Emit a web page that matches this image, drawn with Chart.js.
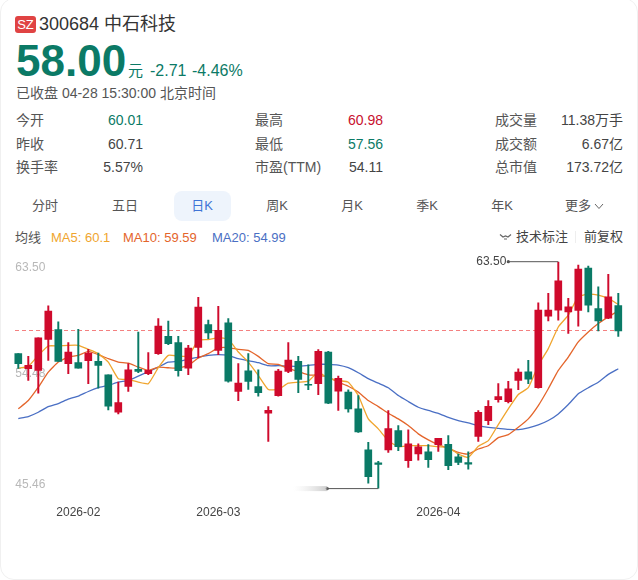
<!DOCTYPE html>
<html lang="zh">
<head>
<meta charset="utf-8">
<script src="https://cdn.jsdelivr.net/npm/chart.js@4"></script>
<style>
html,body{margin:0;padding:0;background:#fff;}
body{width:638px;height:580px;position:relative;overflow:hidden;font-family:"Liberation Sans","Noto Sans CJK SC",sans-serif;color:#444;}
#card{position:absolute;left:0;top:-2px;width:636px;height:580px;border:1px solid #f0f0f0;border-radius:14px;box-sizing:content-box;}
.t{position:absolute;white-space:nowrap;line-height:1;}
.r{text-align:right;}
.c{transform:translateX(-50%);}
#chart{position:absolute;left:0;top:250px;}
#pill{position:absolute;left:174px;top:191px;width:57px;height:30px;background:#eef4fc;border-radius:8px;}
#badge{position:absolute;left:15px;top:16px;width:21px;height:17px;background:#e04343;border-radius:3px;color:#fff;font-size:13px;line-height:17px;text-align:center;}
</style>
</head>
<body>
<div id="card"></div>
<div id="badge">SZ</div>
<div class="t" style="left:39px;top:15px;font-size:18px;color:#333">300684 中石科技</div>
<div class="t" style="left:16px;top:39px;font-size:44px;font-weight:bold;color:#0b7a66">58.00</div>
<div class="t" style="left:128px;top:63px;font-size:15px;color:#0b7a66">元</div>
<div class="t" style="left:150px;top:63px;font-size:16px;color:#0b7a66">-2.71</div>
<div class="t" style="left:192px;top:63px;font-size:16px;color:#0b7a66">-4.46%</div>
<div class="t" style="left:16px;top:86px;font-size:14px;color:#555">已收盘 04-28 15:30:00 北京时间</div>
<div id="stats"></div>
<div id="pill"></div>
<div id="tabs"></div>
<div class="t" style="left:15px;top:231px;font-size:13px;color:#555">均线</div>
<div id="legend"></div>
<svg style="position:absolute;left:499px;top:233px" width="13" height="8" viewBox="0 0 13 8"><path d="M1 1.5 L4 4 L6.5 3 L9 4 L12 1.5" fill="none" stroke="#666" stroke-width="1.2"/><path d="M5 6 L8 6" stroke="#666" stroke-width="1"/></svg>
<div class="t" style="left:516px;top:230px;font-size:13px;color:#444">技术标注</div>
<div style="position:absolute;left:575px;top:231px;width:1px;height:12px;background:#eee"></div>
<div class="t" style="left:584px;top:230px;font-size:13px;color:#444">前复权</div>
<canvas id="chart" width="638" height="298" style="width:638px;height:298px"></canvas>
<script>
const categories=["2026-01-23","2026-01-26","2026-01-27","2026-01-28","2026-01-29","2026-01-30","2026-02-02","2026-02-03","2026-02-04","2026-02-05","2026-02-06","2026-02-09","2026-02-10","2026-02-11","2026-02-12","2026-02-13","2026-02-24","2026-02-25","2026-02-26","2026-02-27","2026-03-02","2026-03-03","2026-03-04","2026-03-05","2026-03-06","2026-03-09","2026-03-10","2026-03-11","2026-03-12","2026-03-13","2026-03-16","2026-03-17","2026-03-18","2026-03-19","2026-03-20","2026-03-23","2026-03-24","2026-03-25","2026-03-26","2026-03-27","2026-03-30","2026-03-31","2026-04-01","2026-04-02","2026-04-03","2026-04-07","2026-04-08","2026-04-09","2026-04-10","2026-04-13","2026-04-14","2026-04-15","2026-04-16","2026-04-17","2026-04-20","2026-04-21","2026-04-22","2026-04-23","2026-04-24","2026-04-27","2026-04-28"];
const opens=[56.19,54.99,54.86,57.33,58.11,55.39,55.47,55.63,55.58,54.51,51.53,53.58,54.94,54.59,56.19,57.57,57.07,55.04,56.69,58.50,56.45,58.63,53.18,54.83,53.58,51.45,52.84,54.78,55.58,53.76,53.80,56.32,53.21,53.13,51.80,48.55,47.50,48.53,50.07,47.68,48.21,48.39,48.95,48.98,47.99,47.52,49.61,50.87,52.54,52.38,54.06,54.75,53.48,59.17,59.65,59.51,59.62,63.00,59.78,59.01,60.01];
const closes=[55.39,55.26,57.44,59.57,55.58,56.32,55.04,56.24,55.26,52.01,52.30,54.91,54.78,54.86,58.39,56.99,54.83,56.64,59.89,57.83,58.05,54.00,53.84,53.98,53.08,51.69,54.80,55.68,54.14,53.68,56.37,52.25,54.22,51.80,49.97,46.40,47.38,50.23,48.79,49.01,48.79,47.76,49.46,47.28,47.54,47.41,51.53,52.01,52.78,53.40,54.72,54.16,59.65,59.65,61.98,59.91,62.92,60.04,58.79,60.71,58.00];
const highs=[56.19,55.97,57.44,59.99,58.71,57.07,58.13,56.53,56.24,54.51,53.92,55.39,57.91,56.27,58.98,58.77,57.57,56.85,60.66,58.85,59.96,58.98,55.39,56.19,54.91,51.98,54.94,57.07,55.97,55.31,56.51,56.37,54.40,53.32,52.86,49.14,47.62,51.67,50.47,50.13,49.01,48.95,49.46,49.67,48.21,48.39,51.67,52.46,53.80,53.98,54.99,55.66,60.23,60.98,63.50,60.58,63.24,63.16,61.50,62.49,60.98];
const lows=[55.02,54.06,53.05,55.66,55.58,54.59,55.04,53.80,53.45,51.72,51.40,53.18,54.67,54.51,56.13,56.91,54.40,54.51,55.84,57.39,56.11,53.92,52.46,53.34,52.81,49.22,52.81,54.67,53.08,53.32,52.92,52.22,51.67,51.53,49.93,45.90,45.46,48.34,48.47,47.14,47.73,47.14,48.42,46.96,47.36,47.01,49.22,50.55,52.33,52.28,53.32,53.80,53.45,58.79,58.85,57.79,58.37,59.51,58.00,58.98,57.56];
const ma5=[55.04,55.18,56.05,56.80,56.80,56.85,56.85,56.53,56.19,55.52,54.20,54.14,53.92,53.80,55.07,56.05,56.00,56.00,57.25,57.31,57.47,57.33,56.32,55.52,54.46,53.34,53.34,53.84,53.92,54.00,54.72,54.22,54.06,53.92,52.86,51.00,50.21,49.27,48.79,48.87,48.87,48.87,48.79,48.74,48.21,47.94,48.82,49.27,50.55,51.80,52.94,53.48,55.26,56.59,58.31,59.25,60.71,60.92,60.84,60.58,60.10];
const ma10=[51.80,52.46,53.52,54.72,55.52,55.92,56.05,56.37,56.11,55.79,55.52,55.44,55.12,54.86,55.12,55.07,55.04,55.26,55.84,56.19,56.64,56.67,56.53,56.45,55.97,55.39,55.34,54.99,54.78,54.51,54.46,54.32,53.92,53.60,53.13,52.46,51.98,51.45,51.00,50.47,49.81,49.33,48.95,48.66,48.34,48.21,48.61,48.87,49.51,49.75,50.33,51.00,52.06,53.40,54.86,55.92,57.12,57.91,58.58,59.11,59.59];
const ma20=[51.03,51.19,51.53,51.98,52.22,52.57,52.81,53.18,53.48,53.66,53.92,54.06,54.40,54.75,55.12,55.52,55.58,55.74,55.92,56.05,56.11,56.05,55.79,55.63,55.47,55.23,55.23,55.20,55.18,55.26,55.34,55.34,55.28,55.07,54.67,54.20,53.84,53.48,52.86,52.38,51.93,51.67,51.45,51.13,50.87,50.68,50.47,50.33,50.25,50.17,50.15,50.29,50.52,50.87,51.40,52.14,53.00,53.48,53.92,54.54,54.99];
const yTickValues=[63.50,54.48,45.46];
const monthStarts=["2026-02-02","2026-03-02","2026-04-01"];
const tabLabels=["分时","五日","日K","周K","月K","季K","年K","更多"];
const statRows=[
 ["今开","60.01","#0b7a66","最高","60.98","#c8102e","成交量","11.38万手"],
 ["昨收","60.71","#444","最低","57.56","#0b7a66","成交额","6.67亿"],
 ["换手率","5.57%","#444","市盈(TTM)","54.11","#444","总市值","173.72亿"]];
const legendItems=[["MA5","60.1","#f0a52e",51],["MA10","59.59","#e4652b",123],["MA20","54.99","#4a6fc4",212]];

const RED="#cf0a2c",GREEN="#0a7a66";
const rowTops=[113,137,160];
let h="";
statRows.forEach((r,i)=>{const t=rowTops[i];
 h+=`<div class="t" style="left:16px;top:${t}px;font-size:14px;color:#555">${r[0]}</div>`;
 h+=`<div class="t" style="right:495px;top:${t}px;font-size:14px;color:${r[2]}">${r[1]}</div>`;
 h+=`<div class="t" style="left:255px;top:${t}px;font-size:14px;color:#555">${r[3]}</div>`;
 h+=`<div class="t" style="right:255px;top:${t}px;font-size:14px;color:${r[5]}">${r[4]}</div>`;
 h+=`<div class="t" style="left:495px;top:${t}px;font-size:14px;color:#555">${r[6]}</div>`;
 h+=`<div class="t" style="right:15px;top:${t}px;font-size:14px;color:#444">${r[7]}</div>`;
});
document.getElementById("stats").innerHTML=h;
const tabX=[45,125,202,277,352,427,502,578];
document.getElementById("tabs").innerHTML=tabLabels.map((l,i)=>`<div class="t c" style="left:${tabX[i]}px;top:199px;font-size:13px;color:${i==2?'#3f74d6':'#555'}">${l}</div>`).join("")+
 `<svg style="position:absolute;left:594px;top:203px" width="10" height="7" viewBox="0 0 10 7"><path d="M1 1 L5 5.5 L9 1" fill="none" stroke="#666" stroke-width="1"/></svg>`;
document.getElementById("legend").innerHTML=legendItems.map(m=>`<div class="t" style="left:${m[3]}px;top:231px;font-size:13px;color:${m[2]}">${m[0]}: ${m[1]}</div>`).join("");

const candleColors=closes.map((c,i)=>c>=opens[i]?RED:GREEN);
const labelShift={"63.50":6,"54.48":-1.5,"45.46":-3.5};

const overlay={
 id:"overlay",
 beforeDraw(chart){
  const s=chart.scales.y;
  s.getLabelItems(chart.chartArea).forEach(it=>{
   if(!it._moved){it.options.translation[1]+=labelShift[it.label]||0;it._moved=true;}
  });
 },
 beforeDatasetsDraw(chart){
  const {ctx,scales:{x,y}}=chart;
  const yp=y.getPixelForValue(closes[closes.length-1]);
  ctx.save();
  ctx.strokeStyle="#f48080";ctx.lineWidth=1;ctx.setLineDash([4,3]);
  ctx.beginPath();ctx.moveTo(15,Math.round(yp)-.5);ctx.lineTo(623,Math.round(yp)-.5);ctx.stroke();
  ctx.restore();
 },
 afterDatasetsDraw(chart){
  const {ctx,scales:{x,y}}=chart;
  const hi=Math.max(...highs),lo=Math.min(...lows);
  const hx=x.getPixelForValue(highs.indexOf(hi)),hy=y.getPixelForValue(hi);
  const lx=x.getPixelForValue(lows.indexOf(lo)),ly=y.getPixelForValue(lo);
  ctx.save();
  ctx.strokeStyle="#555";ctx.fillStyle="#555";ctx.lineWidth=1;
  ctx.beginPath();ctx.moveTo(hx,hy);ctx.lineTo(hx-50,hy);ctx.stroke();
  ctx.beginPath();ctx.arc(hx-50,hy,1.6,0,Math.PI*2);ctx.fill();
  ctx.beginPath();ctx.moveTo(lx,ly);ctx.lineTo(lx-51,ly);ctx.stroke();
  ctx.beginPath();ctx.arc(lx-51,ly,1.6,0,Math.PI*2);ctx.fill();
  const g=ctx.createLinearGradient(lx-85,0,lx-51,0);
  g.addColorStop(0,"rgba(215,215,215,0)");g.addColorStop(1,"rgba(170,170,170,.6)");
  ctx.fillStyle=g;ctx.fillRect(lx-85,ly-2.5,34,5);
  ctx.fillStyle="#444";ctx.font='12px "Liberation Sans"';ctx.textAlign="right";ctx.textBaseline="middle";
  ctx.fillText(hi.toFixed(2),hx-52,hy);
  ctx.restore();
 }
};

new Chart(document.getElementById("chart"),{
 data:{labels:categories,datasets:[
  {type:"bar",label:"实体",data:opens.map((o,i)=>[o,closes[i]]),backgroundColor:candleColors,barThickness:7,grouped:false,order:0},
  {type:"bar",label:"影线",data:lows.map((l,i)=>[l,highs[i]]),backgroundColor:candleColors,barThickness:1.3,grouped:false,order:1},
  {type:"line",label:"MA5",data:ma5,borderColor:"#f0a52e",borderWidth:1.3,pointRadius:0,tension:.15,order:3},
  {type:"line",label:"MA10",data:ma10,borderColor:"#e4652b",borderWidth:1.3,pointRadius:0,tension:.15,order:4},
  {type:"line",label:"MA20",data:ma20,borderColor:"#4a6fc4",borderWidth:1.3,pointRadius:0,tension:.15,order:5}
 ]},
 options:{
  responsive:false,animation:false,devicePixelRatio:1,
  layout:{padding:{left:13.3,right:14.7,top:11.7,bottom:11}},
  plugins:{legend:{display:false},tooltip:{enabled:false}},
  scales:{
   x:{type:"category",offset:true,border:{display:false},grid:{display:false,drawTicks:false},
    afterBuildTicks(s){s.ticks=monthStarts.map(d=>({value:categories.indexOf(d)}));},
    ticks:{autoSkip:false,maxRotation:0,color:"#444",font:{size:12,family:'"Liberation Sans"'},padding:17,
     callback(v){return categories[v].slice(0,7);}}},
   y:{min:45.46,max:63.5,position:"left",border:{display:false},grid:{display:false,drawTicks:false},
    afterFit(s){s.width=0;},
    afterBuildTicks(s){s.ticks=yTickValues.map(v=>({value:v}));},
    ticks:{mirror:true,padding:2,color:"#b8b8b8",font:{size:12,family:'"Liberation Sans"'},
     callback(v){return v.toFixed(2);}}}
  }
 },
 plugins:[overlay]
});
</script>
</body>
</html>
